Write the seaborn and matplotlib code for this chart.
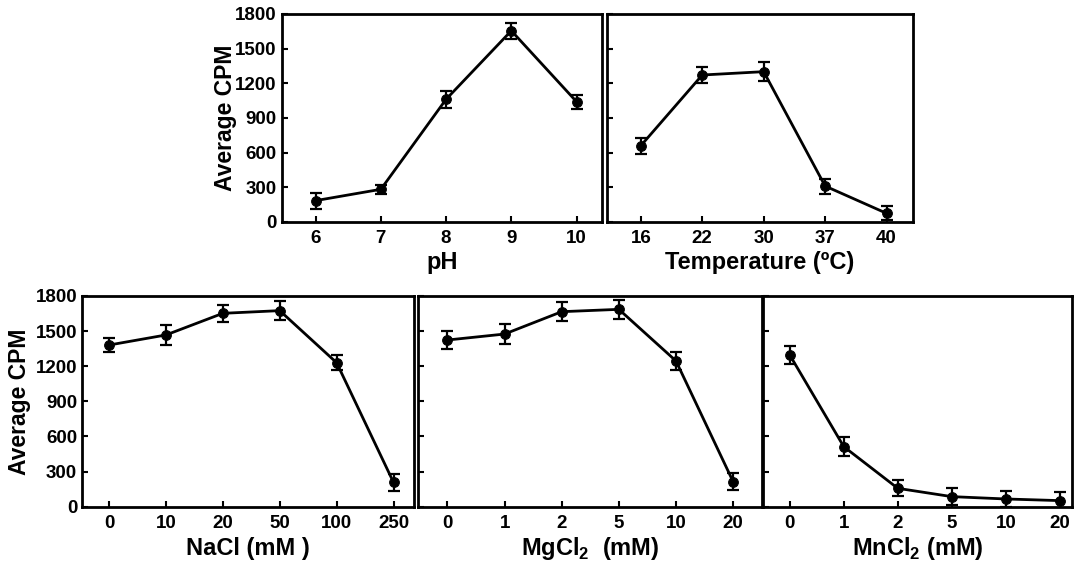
import numpy as np
import matplotlib
matplotlib.use("Agg")
import matplotlib.pyplot as plt
import seaborn as sns

# Data (Average CPM, +/- error)
ph_labels = ["6", "7", "8", "9", "10"]
ph_values = [185, 283, 1062, 1655, 1041]
ph_errors = [70, 40, 75, 70, 60]

temp_labels = ["16", "22", "30", "37", "40"]
temp_values = [660, 1272, 1301, 311, 75]
temp_errors = [70, 70, 85, 65, 60]

nacl_labels = ["0", "10", "20", "50", "100", "250"]
nacl_values = [1381, 1467, 1652, 1675, 1230, 208]
nacl_errors = [63, 83, 75, 81, 64, 70]

mgcl_labels = ["0", "1", "2", "5", "10", "20"]
mgcl_values = [1424, 1475, 1666, 1686, 1245, 214]
mgcl_errors = [77, 88, 81, 81, 78, 71]

mncl_labels = ["0", "1", "2", "5", "10", "20"]
mncl_values = [1296, 513, 157, 86, 66, 52]
mncl_errors = [78, 81, 67, 71, 68, 70]

y_ticks = [0, 300, 600, 900, 1200, 1500, 1800]

W, H = 1074, 563


def rect(x0, y0, x1, y1):
    # pixel box (top-left origin) -> figure fraction
    return [x0 / W, (H - y1) / H, (x1 - x0) / W, (y1 - y0) / H]


def draw_panel(ax, labels, values, errors, xlim, xlabel, ylabel=None):
    pos = np.arange(len(labels))
    sns.lineplot(x=pos, y=values, ax=ax, color="black", linewidth=2,
                 marker="o", markersize=7, markeredgecolor="black")
    ax.errorbar(pos, values, yerr=errors, fmt="none", ecolor="black",
                elinewidth=1.6, capsize=4, capthick=1.6)
    ax.set_xlim(*xlim)
    ax.set_ylim(0, 1800)
    ax.set_xticks(pos)
    ax.set_xticklabels(labels)
    ax.set_yticks(y_ticks)
    ax.tick_params(direction="in", length=4, width=1.5, labelsize=13.5,
                   pad=6, colors="black")
    ax.tick_params(axis="y", pad=3.5)
    for sp in ax.spines.values():
        sp.set_visible(True)
        sp.set_linewidth(2)
        sp.set_color("black")
    ax.grid(False)
    ax.set_xlabel(xlabel, fontsize=17, fontweight="bold", color="black")
    ax.xaxis.set_label_coords(0.5, -0.197)
    ax.xaxis.label.set_verticalalignment("center")
    if ylabel:
        ax.set_ylabel(ylabel, fontsize=16.5, fontweight="bold", color="black")
        ax.yaxis.label.set_verticalalignment("center")
    else:
        ax.set_yticklabels([])
        ax.set_ylabel("")


sns.set_theme(style="ticks")
plt.rcParams["font.family"] = ["Liberation Sans", "DejaVu Sans"]
plt.rcParams["font.weight"] = "bold"
plt.rcParams["axes.labelweight"] = "bold"
plt.rcParams["text.color"] = "black"
plt.rcParams["axes.labelcolor"] = "black"
plt.rcParams["xtick.color"] = "black"
plt.rcParams["ytick.color"] = "black"
plt.rcParams["mathtext.fontset"] = "custom"
plt.rcParams["mathtext.rm"] = "Liberation Sans:bold"
plt.rcParams["mathtext.bf"] = "Liberation Sans:bold"

fig = plt.figure(figsize=(W / 100, H / 100), dpi=100)
fig.patch.set_facecolor("white")

ax_ph = fig.add_axes(rect(281.7, 14, 602, 222))
ax_temp = fig.add_axes(rect(607, 14, 913, 222))
ax_nacl = fig.add_axes(rect(82, 296, 414, 506.7))
ax_mg = fig.add_axes(rect(418.3, 296, 761.7, 506.7))
ax_mn = fig.add_axes(rect(763.3, 296, 1071.7, 506.7))

draw_panel(ax_ph, ph_labels, ph_values, ph_errors, (-0.52, 4.39),
           "pH", "Average CPM")
ax_ph.yaxis.set_label_coords(-0.177, 0.5)
draw_panel(ax_temp, temp_labels, temp_values, temp_errors, (-0.55, 4.43),
           "Temperature (ºC)")
draw_panel(ax_nacl, nacl_labels, nacl_values, nacl_errors, (-0.475, 5.36),
           "NaCl (mM )", "Average CPM")
ax_nacl.yaxis.set_label_coords(-0.187, 0.5)
draw_panel(ax_mg, mgcl_labels, mgcl_values, mgcl_errors, (-0.51, 5.5),
           r"MgCl$_{\mathbf{2}}$  (mM)")
draw_panel(ax_mn, mncl_labels, mncl_values, mncl_errors, (-0.49, 5.22),
           r"MnCl$_{\mathbf{2}}$ (mM)")

fig.savefig("out.png", dpi=100, facecolor="white")
